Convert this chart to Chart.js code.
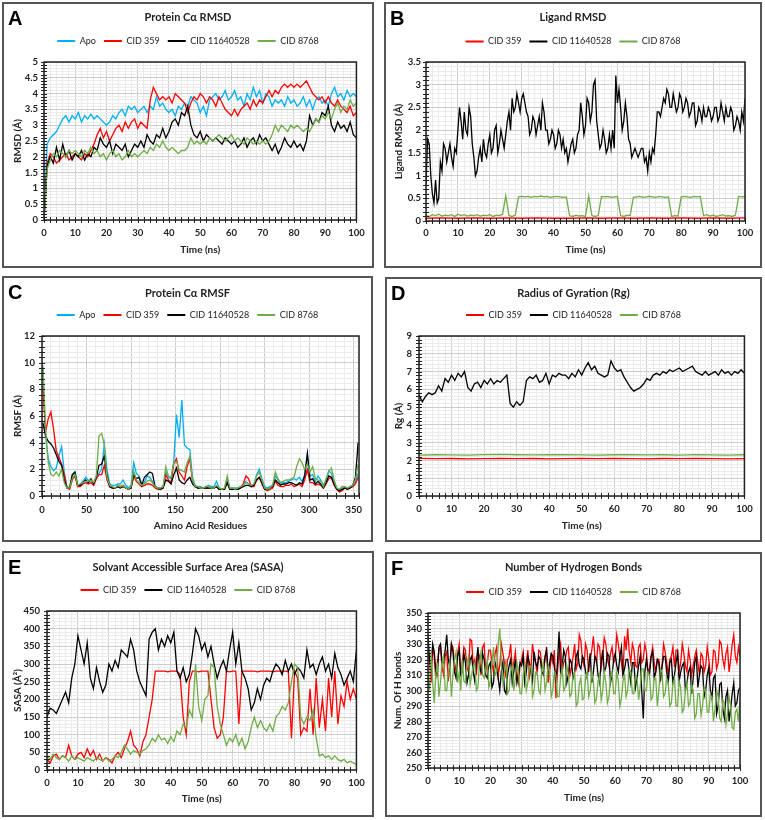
<!DOCTYPE html>
<html>
<head>
<meta charset="utf-8">
<script src="https://cdn.jsdelivr.net/npm/chart.js@4.4.1/dist/chart.umd.min.js"></script>
<style>
  html, body { margin: 0; padding: 0; background: #fff; }
  body { width: 765px; height: 820px; position: relative; overflow: hidden; }
  .panel { position: absolute; box-sizing: border-box; border: 2px solid #555; background: #fff; }
  .panel canvas { position: absolute; left: 0; top: 0; }
  .tag { position: absolute; left: 4px; top: 4px; z-index: 2; color: #000;
         font: bold 20px "Liberation Sans", Arial, sans-serif; line-height: 1; }
</style>
</head>
<body>
<div class="panel" id="panelA"><canvas></canvas><div class="tag">A</div></div>
<div class="panel" id="panelB"><canvas></canvas><div class="tag">B</div></div>
<div class="panel" id="panelC"><canvas></canvas><div class="tag">C</div></div>
<div class="panel" id="panelD"><canvas></canvas><div class="tag">D</div></div>
<div class="panel" id="panelE"><canvas></canvas><div class="tag">E</div></div>
<div class="panel" id="panelF"><canvas></canvas><div class="tag">F</div></div>

<script>
// ---- data ----
const timeNs = [0,1,2,3,4,5,6,7,8,9,10,11,12,13,14,15,16,17,18,19,20,21,22,23,24,25,26,27,28,29,30,31,32,33,34,35,36,37,38,39,40,41,42,43,44,45,46,47,48,49,50,51,52,53,54,55,56,57,58,59,60,61,62,63,64,65,66,67,68,69,70,71,72,73,74,75,76,77,78,79,80,81,82,83,84,85,86,87,88,89,90,91,92,93,94,95,96,97,98,99,100];
const timeHalf = [0,0.5,1,1.5,2,2.5,3,3.5,4,4.5,5,5.5,6,6.5,7,7.5,8,8.5,9,9.5,10,10.5,11,11.5,12,12.5,13,13.5,14,14.5,15,15.5,16,16.5,17,17.5,18,18.5,19,19.5,20,20.5,21,21.5,22,22.5,23,23.5,24,24.5,25,25.5,26,26.5,27,27.5,28,28.5,29,29.5,30,30.5,31,31.5,32,32.5,33,33.5,34,34.5,35,35.5,36,36.5,37,37.5,38,38.5,39,39.5,40,40.5,41,41.5,42,42.5,43,43.5,44,44.5,45,45.5,46,46.5,47,47.5,48,48.5,49,49.5,50,50.5,51,51.5,52,52.5,53,53.5,54,54.5,55,55.5,56,56.5,57,57.5,58,58.5,59,59.5,60,60.5,61,61.5,62,62.5,63,63.5,64,64.5,65,65.5,66,66.5,67,67.5,68,68.5,69,69.5,70,70.5,71,71.5,72,72.5,73,73.5,74,74.5,75,75.5,76,76.5,77,77.5,78,78.5,79,79.5,80,80.5,81,81.5,82,82.5,83,83.5,84,84.5,85,85.5,86,86.5,87,87.5,88,88.5,89,89.5,90,90.5,91,91.5,92,92.5,93,93.5,94,94.5,95,95.5,96,96.5,97,97.5,98,98.5,99,99.5,100];
const timeCoarse = [0,5,10,15,20,25,30,35,40,45,50,55,60,65,70,75,80,85,90,95,100];
const residues = [1,4,7,10,13,16,19,22,25,28,31,34,37,40,43,46,49,52,55,58,61,64,67,70,73,76,79,82,85,88,91,94,97,100,103,106,109,112,115,118,121,124,127,130,133,136,139,142,145,148,151,154,157,160,163,166,169,172,175,178,181,184,187,190,193,196,199,202,205,208,211,214,217,220,223,226,229,232,235,238,241,244,247,250,253,256,259,262,265,268,271,274,277,280,283,286,289,292,295,298,301,304,307,310,313,316,319,322,325,328,331,334,337,340,343,346,349,352,355];

// A: protein C-alpha RMSD
const rmsdApo = [0,2.4,2.6,2.7,2.8,3.0,3.2,3.3,3.1,3.3, 3.2,3.4,3.1,3.3,3.2,3.35,3.2,3.3,3.2,3.1, 3.0,3.1,3.3,3.2,3.4,3.5,3.3,3.6,3.5,3.6, 3.4,3.5,3.6,3.4,3.6,3.5,3.9,3.6,3.7,3.5, 3.4,3.5,3.3,3.6,3.5,3.7,3.6,3.9,3.8,3.7, 3.4,3.6,3.3,3.8,3.9,4.0,3.8,3.9,4.1,3.8, 3.9,4.1,3.8,3.9,3.6,4.0,3.8,4.2,3.9,4.1, 3.7,4.0,3.9,3.6,3.8,3.7,3.8,3.6,3.9,3.7, 3.8,3.6,3.7,3.9,3.6,3.8,3.5,3.8,3.9,3.7, 3.8,3.6,4.0,4.2,3.9,4.0,3.8,4.1,3.9,4.0, 3.9];
const rmsdCid359 = [0,1.8,2.1,2.0,1.8,1.9,2.0,2.1,1.9,2.0, 2.1,2.0,1.9,2.1,2.0,2.2,2.4,2.7,2.9,2.6, 2.8,2.5,2.7,2.9,3.0,2.8,3.1,2.9,3.1,3.2, 2.9,3.1,3.0,2.9,3.8,4.2,4.0,3.8,3.9,3.8, 3.9,3.7,4.0,3.9,3.8,3.7,3.4,3.7,3.9,3.8, 4.0,3.9,3.7,3.9,3.8,3.6,3.9,3.7,3.5,3.4, 3.3,3.5,3.3,3.5,3.6,3.7,3.5,3.8,3.6,3.8, 3.7,3.9,4.1,3.9,4.1,4.0,4.2,4.3,4.2,4.3, 4.2,4.3,4.2,4.3,4.4,4.2,4.0,3.9,3.8,3.9, 3.7,3.9,3.7,3.6,3.8,3.6,3.5,3.4,3.6,3.3, 3.4];
const rmsdCid11640528 = [0,1.7,2.0,1.8,2.3,1.9,2.4,2.0,2.2,1.9, 2.1,2.0,2.2,1.9,2.1,2.0,2.3,2.2,2.6,2.4, 2.3,2.5,2.1,2.4,2.3,2.2,2.4,2.0,2.2,2.4, 2.3,2.5,2.3,2.7,2.5,2.4,2.7,2.6,2.9,2.6, 2.8,3.1,3.2,3.0,3.4,3.3,3.6,3.0,2.7,2.6, 2.8,2.5,2.7,2.6,2.5,2.6,2.5,2.4,2.6,2.5, 2.4,2.5,2.3,2.4,2.6,2.3,2.5,2.6,2.4,2.7, 2.5,2.6,2.4,2.2,2.4,2.1,2.3,2.6,2.4,2.3, 2.5,2.3,2.4,2.2,2.5,3.3,3.0,3.2,3.1,3.4, 3.3,3.6,3.0,2.8,3.1,2.9,3.0,2.8,3.1,2.7, 2.6];
const rmsdCid8768 = [0,1.6,1.9,2.1,2.0,2.2,2.1,2.0,2.2,2.1, 2.2,2.1,2.0,2.2,2.1,2.3,2.1,2.2,2.0,2.1, 1.9,2.1,2.2,2.0,2.1,1.9,2.0,2.2,2.0,2.1, 2.0,2.1,2.2,2.1,2.3,2.2,2.4,2.3,2.5,2.3, 2.2,2.3,2.2,2.1,2.2,2.2,2.3,2.6,2.4,2.5, 2.4,2.5,2.4,2.6,2.5,2.6,2.7,2.6,2.5,2.6, 2.7,2.5,2.6,2.5,2.4,2.6,2.5,2.4,2.5,2.4, 2.5,2.4,2.5,2.7,3.0,2.8,3.0,2.9,2.8,3.0, 2.9,3.0,2.9,2.8,2.9,2.8,3.0,3.2,3.1,3.3, 3.2,3.4,3.2,3.5,3.7,3.4,3.6,3.5,3.8,3.6, 3.7];

// B: ligand RMSD
const ligCid359 = [0.06,0.07,0.06,0.07,0.06,0.07,0.06,0.07,0.06,0.06,0.07,0.06,0.07,0.06,0.07,0.06,0.07,0.06,0.07,0.06,0.07];
const ligCid11640528 = [0.8,1.8,1.7,1.0,0.6,0.4,0.9,0.4,0.5,1.3,1.1,1.7,1.6,1.3,1.5,1.7,1.4,1.2,1.6,1.5,
  2.0,2.5,2.2,1.8,2.4,2.0,1.9,2.5,2.3,1.7,1.4,1.0,1.1,1.4,1.6,1.3,1.8,1.5,1.4,1.7,
  1.9,1.5,1.6,2.0,2.1,1.5,1.7,2.0,1.8,1.6,1.9,2.2,2.4,2.0,2.7,2.4,2.5,2.8,2.6,2.4,
  2.7,2.8,2.6,2.4,2.3,1.9,2.0,2.3,2.2,1.9,2.1,2.3,2.0,2.6,2.4,2.0,2.0,1.7,1.8,2.0,
  1.9,1.6,1.7,2.0,1.9,1.6,1.8,1.5,1.6,1.3,1.5,1.7,1.8,1.5,1.6,1.9,2.0,2.6,2.3,1.9,
  2.1,2.7,2.6,2.2,2.4,3.0,3.1,2.2,1.9,1.6,1.7,2.0,1.8,1.5,1.6,1.9,1.6,2.0,1.6,3.2,
  2.6,2.9,2.5,2.0,2.2,2.6,2.3,1.8,1.7,1.4,1.5,1.6,1.5,1.4,1.5,1.6,1.6,1.3,1.4,1.1,
  1.5,1.3,1.6,1.5,1.9,2.4,2.4,2.3,2.5,2.7,2.6,2.9,2.8,2.5,2.5,2.8,2.6,2.4,2.5,2.8,
  2.7,2.4,2.5,2.7,2.6,2.3,2.4,2.6,2.6,2.1,2.2,2.5,2.4,2.2,2.5,2.3,2.3,2.5,2.4,2.2,
  2.3,2.5,2.5,2.2,2.3,2.6,2.4,2.2,2.5,2.3,2.3,2.5,2.4,2.0,2.1,2.3,2.2,2.0,2.4,2.2,
  2.7];
const ligCid8768 = [0.12,0.10,0.14,0.12,0.15,0.11,0.13,0.12,0.14,0.10, 0.15,0.12,0.14,0.11,0.13,0.12,0.14,0.11,0.13,0.12, 0.14,0.10,0.13,0.12,0.15, 0.55, 0.12,0.10,0.13, 0.53, 0.54,0.53,0.54,0.52,0.54,0.53,0.55,0.53,0.54,0.52,0.53,0.54,0.53,0.52, 0.53, 0.12,0.10,0.13,0.11,0.12,0.10, 0.55, 0.12,0.10,0.12, 0.54, 0.53,0.54,0.52,0.53,0.54, 0.12,0.10,0.13,0.12, 0.52, 0.53,0.54,0.52,0.53,0.54,0.53,0.52,0.54,0.53,0.52,0.53, 0.10,0.12,0.11, 0.53, 0.54,0.53,0.52,0.54,0.53,0.54, 0.12, 0.14,0.11,0.13,0.10,0.12,0.14,0.11,0.12,0.10,0.13, 0.54,0.53,0.54];

// C: protein C-alpha RMSF per residue
const rmsfApo = [9.6,4.5,2.8,2.2,1.9,2.1,3.0,3.7,1.8,0.7, 0.6,1.5,1.8,0.8,0.9,1.1,1.4,1.2,1.0,1.0, 1.5,1.7,2.0,3.9,2.0,0.9,0.8,0.8,0.9,0.9, 1.2,0.8,0.6,0.8,2.5,1.7,1.5,0.9,1.0,1.5, 1.4,1.1,0.7,0.6,0.6,0.7,1.8,1.4,1.3,2.6, 6.1,4.4,7.2,3.8,3.6,3.5,1.4,0.8,0.7,0.7, 0.6,0.7,0.8,0.7,0.7,1.1,0.6,0.5,0.6,1.3, 0.6,0.6,0.6,0.6,0.7,0.9,1.1,0.9,0.8,0.9, 1.6,2.0,1.3,0.7,0.6,0.7,0.8,1.5,1.2,0.9, 1.0,1.0,1.1,1.2,1.3,1.2,1.4,1.1,1.6,3.1, 1.5,1.6,1.1,1.5,1.2,0.8,1.2,1.9,1.7,1.1, 0.6,0.5,0.6,0.7,0.6,0.7,0.8,1.0,1.7];
const rmsfCid359 = [8.2,4.8,5.8,6.3,5.0,3.4,2.9,2.4,1.6,0.6, 0.5,1.2,1.5,0.7,0.7,0.9,1.0,0.9,1.0,0.8, 1.3,1.6,1.6,2.3,1.2,0.7,0.6,0.6,0.7,0.7, 0.8,0.6,0.5,0.6,1.5,1.1,0.9,0.7,0.8,0.9, 0.9,0.8,0.6,0.5,0.5,0.6,1.6,1.2,1.0,2.4, 2.8,1.8,1.5,1.2,2.2,2.8,1.1,0.7,0.6,0.6, 0.6,0.6,0.6,0.6,0.6,0.7,0.5,0.5,0.5,1.0, 0.5,0.5,0.5,0.5,0.6,0.9,1.5,1.3,0.7,0.7, 1.2,1.4,0.9,0.5,0.4,0.5,0.6,1.1,0.8,0.7, 0.7,0.8,0.8,0.9,0.7,0.8,0.9,0.7,1.2,2.0, 1.0,1.0,0.8,0.9,0.8,0.6,0.9,1.3,1.4,0.8, 0.5,0.3,0.4,0.6,0.5,0.6,0.7,0.9,1.4];
const rmsfCid11640528 = [5.5,4.5,4.1,3.9,3.6,3.1,2.6,2.3,1.2,0.6, 0.6,1.6,1.8,0.8,0.8,1.0,1.2,1.0,1.3,0.9, 1.4,2.3,2.4,3.0,1.5,0.7,0.6,0.6,0.7,0.6, 0.7,0.6,0.5,0.6,1.6,1.3,1.4,0.8,1.4,1.6, 1.8,1.7,0.7,0.6,0.5,0.6,1.2,1.1,0.9,1.6, 2.1,1.2,1.0,0.9,1.2,1.4,0.9,0.7,0.6,0.6, 0.6,0.6,0.6,0.6,0.6,0.7,0.5,0.5,0.5,1.0, 0.5,0.5,0.5,0.5,0.6,0.7,0.8,0.8,0.7,0.8, 1.2,1.4,1.0,0.5,0.5,0.6,0.7,1.2,1.0,0.8, 0.9,0.9,1.0,1.0,0.9,0.8,1.0,0.9,1.5,3.2, 1.2,1.3,0.9,1.1,0.9,0.6,1.0,1.5,1.4,0.9, 0.5,0.4,0.5,0.6,0.5,0.6,0.8,1.4,4.0];
const rmsfCid8768 = [9.8,5.0,2.5,1.6,1.5,1.8,1.5,2.0,1.0,0.6, 0.6,1.3,1.6,0.8,0.9,1.0,1.1,1.1,1.2,1.0, 1.5,4.5,4.7,3.8,1.4,0.8,0.7,0.6,0.8,0.7, 0.8,0.6,0.5,0.7,1.9,1.2,1.0,0.8,0.9,1.1, 1.2,1.0,0.7,0.6,0.6,0.7,2.2,1.5,1.4,2.5, 2.6,2.0,1.9,1.8,2.5,3.0,1.2,0.7,0.7,0.6, 0.6,0.7,0.7,0.6,0.6,0.8,0.6,0.5,0.6,1.5, 0.6,0.6,0.5,0.6,0.7,0.8,1.0,0.9,0.8,0.9, 1.5,1.8,1.2,0.6,0.5,0.6,0.8,1.8,1.3,1.0, 1.1,1.2,1.2,1.3,1.4,2.2,2.8,2.5,2.0,2.4, 1.8,2.2,1.3,1.2,1.1,0.7,1.3,1.8,2.1,1.2, 0.6,0.5,0.7,0.7,0.6,0.7,0.8,1.2,2.4];

// D: radius of gyration
const rgCid359 = [2.12,2.10,2.11,2.09,2.10,2.12,2.10,2.11,2.09,2.10,2.11,2.10,2.12,2.10,2.09,2.11,2.10,2.12,2.10,2.09,2.10];
const rgCid11640528 = [5.7,5.3,5.6,5.8,5.7,5.8,6.2,5.9,6.6,6.4, 6.8,6.5,6.9,6.7,7.0,6.1,5.9,6.3,6.4,6.1, 6.5,6.3,6.6,6.3,6.5,6.4,6.6,6.8,5.2,5.0, 5.3,5.1,5.3,6.5,6.7,6.6,6.8,6.4,6.5,6.9, 6.3,6.8,6.7,6.9,6.8,6.8,6.6,6.9,6.7,7.1, 6.8,7.2,7.5,7.1,7.3,6.9,6.8,6.7,6.8,7.6, 7.2,7.0,7.1,6.7,6.4,6.1,5.9,6.0,6.1,6.3, 6.6,6.5,6.8,6.9,6.8,7.0,6.9,7.1,7.0,7.1, 7.2,7.0,7.1,7.2,7.3,7.0,6.9,6.8,7.0,6.8, 6.9,7.0,6.8,7.1,6.9,7.0,6.8,7.0,6.9,7.1, 6.9];
const rgCid8768 = [2.30,2.32,2.31,2.30,2.33,2.34,2.32,2.31,2.33,2.32,2.31,2.30,2.32,2.33,2.31,2.32,2.30,2.33,2.31,2.30,2.32];

// E: SASA
const sasaCid359 = [30,20,40,45,30,40,35,70,40,30, 45,50,35,60,40,55,30,45,25,35, 30,20,40,50,35,60,80,110,70,60, 40,80,100,150,200,280,280,280,280,278, 280,280,280,270,150,100,250,280,280,278, 280,280,280,200,120,90,100,150,280,278, 280,280,130,280,280,280,280,280,278,280, 280,280,280,278,280,280,280,280,278,90, 280,260,100,120,110,230,100,260,120,200, 110,260,150,280,130,210,180,250,200,230, 200];
const sasaCid11640528 = [150,175,170,160,180,200,220,190,260,300, 380,340,300,360,260,230,290,250,220,240, 300,280,310,290,340,330,320,370,340,280, 250,230,210,370,390,400,340,370,350,380, 360,390,280,260,290,250,270,330,400,380, 340,360,320,350,300,260,290,310,280,340, 390,300,360,280,260,230,170,190,230,200, 240,260,250,280,300,290,270,310,280,300, 270,290,280,260,340,290,300,270,300,320, 280,300,260,330,290,270,240,260,280,250, 340];
const sasaCid8768 = [40,30,45,35,30,40,35,25,40,30, 35,30,25,35,30,25,35,30,25,35, 25,30,40,35,50,70,60,45,55,50, 45,55,60,70,90,80,100,85,90,75, 95,80,110,100,130,120,170,150,300,180, 140,200,210,300,290,180,130,100,70,90, 80,100,70,90,60,80,120,150,120,140, 120,110,130,110,150,160,180,170,190,250, 300,290,150,130,150,140,170,90,40,45, 35,40,30,40,30,25,30,20,25,20, 15];

// F: number of hydrogen bonds (every 0.5 ns)
const hbCid359 = [325,318,305,328,322,308,318,326,328,315,310,322,325,306,315,330,328,318,312,324,
  330,310,318,328,326,315,312,333,332,316,320,310,325,322,310,328,330,312,318,326,
  326,318,312,324,328,310,316,330,324,318,308,320,322,330,314,318,325,312,305,316,
  320,325,312,318,326,309,315,330,322,318,310,326,325,316,314,320,328,305,312,322,
  318,326,295,312,324,330,312,318,320,326,328,310,315,322,330,314,318,336,332,320,
  316,330,326,312,320,326,335,322,318,330,328,315,322,334,330,320,316,324,328,318,
  320,336,330,322,318,310,335,326,340,325,318,330,326,316,315,328,330,318,320,330,
  325,312,314,322,328,318,312,320,320,308,316,330,325,318,310,320,322,328,315,326,
  326,312,318,330,324,316,312,326,320,310,316,322,326,318,310,324,322,312,316,328,
  320,310,312,326,325,314,318,332,330,320,315,324,328,312,320,330,336,322,318,328,
  322];
const hbCid11640528 = [335,320,315,330,325,312,310,328,330,318,318,326,336,320,315,330,325,312,308,322,
  326,310,312,324,318,305,310,320,322,312,306,318,328,315,312,324,320,310,308,316,
  318,302,305,318,314,308,300,312,318,300,298,310,316,320,305,312,320,305,310,318,
  316,322,305,312,322,318,312,306,325,318,315,322,320,312,310,322,326,312,318,324,
  322,315,305,318,338,312,315,326,322,305,310,320,318,308,312,322,325,316,314,322,
  320,312,308,316,324,305,312,322,320,310,305,318,326,312,315,324,322,305,310,320,
  324,316,312,322,328,310,314,320,320,312,305,318,318,302,308,316,322,300,282,312,
  320,312,310,322,325,308,312,320,318,306,315,322,322,312,305,318,320,305,310,318,
  324,306,312,316,318,300,305,312,315,298,308,318,322,302,310,316,314,296,300,310,
  315,300,295,308,310,285,290,304,305,288,282,296,300,280,288,298,305,290,292,300,
  302];
const hbCid8768 = [310,300,325,305,292,310,318,296,305,318,322,300,300,312,318,296,310,320,325,305,
  312,300,320,306,305,318,322,304,310,316,318,300,302,318,325,310,308,315,320,302,
  306,318,328,310,312,330,340,318,305,312,320,298,300,312,316,300,308,318,312,298,
  298,310,318,300,305,316,315,296,300,312,312,300,298,314,318,300,305,316,312,296,
  300,312,310,296,296,308,315,300,302,316,310,296,298,310,312,290,292,304,308,294,
  295,308,312,296,300,312,306,292,295,306,310,294,300,312,305,292,296,308,312,298,
  298,312,306,290,295,306,310,296,300,314,312,298,298,310,308,294,302,314,314,300,
  300,312,310,294,296,308,308,290,300,314,312,296,298,308,305,290,292,304,308,290,
  290,306,302,286,288,300,305,290,292,304,300,282,285,298,298,284,290,302,300,286,
  286,298,295,280,288,300,296,282,280,294,292,278,285,296,290,276,275,286,288,280,
  295];

// ---- styling ----
const COLORS = { apo: '#00b0f0', cid359: '#ff0000', cid11640528: '#000000', cid8768: '#70ad47' };
const BORDER = 2;          // panel frame width
const X_AXIS_H = 42;       // height reserved under every plot
const LEGEND_PAD = 8;
const TICK_FONT = { family: 'Lato', size: 9.5, weight: 'bold', lineHeight: 1.2 };
const AXIS_FONT = { family: 'Lato', size: 10, weight: 'bold', lineHeight: 1.2 };
const TITLE_FONT = { family: 'Lato', size: 11, weight: 'bold', lineHeight: 1.2 };
const LEGEND_FONT = { family: 'Lato', size: 9, weight: 'normal' };
const TEXT = '#222';

const pts = (xs, ys) => ys.map((y, i) => ({ x: xs[i], y }));
const onStep = (v, step) => { const r = v / step; return Math.abs(r - Math.round(r)) < 1e-6; };
const sid = (xs, ys, key, label) => ({ xs, ys, color: COLORS[key], label });

// page-coordinate layout of each panel
const panels = [
    { id: 'A', box: [2, 2, 374, 268], plot: [44, 62, 357, 220], titleY: 17, legendY: 41, xLabelY: 233, xTitleY: 250, yTitleX: 18, yGap: 6,
      title: 'Protein Cα RMSD', xTitle: 'Time (ns)', yTitle: 'RMSD (Å)',
      x: { min: 0, max: 100, major: 10, minor: 2 }, y: { min: 0, max: 5, major: 0.5, minor: 0.1 },
      series: [sid(timeNs, rmsdApo, 'apo', 'Apo'), sid(timeNs, rmsdCid359, 'cid359', 'CID 359'),
               sid(timeNs, rmsdCid11640528, 'cid11640528', 'CID 11640528'), sid(timeNs, rmsdCid8768, 'cid8768', 'CID 8768')] },
    { id: 'B', box: [384, 2, 762, 268], plot: [426, 62, 745, 221], titleY: 17.5, legendY: 41.5, xLabelY: 233, xTitleY: 250, yTitleX: 399, yGap: 5,
      title: 'Ligand RMSD', xTitle: 'Time (ns)', yTitle: 'Ligand RMSD (Å)',
      x: { min: 0, max: 100, major: 10, minor: 2 }, y: { min: 0, max: 3.5, major: 0.5, minor: 0.1 },
      series: [sid(timeCoarse, ligCid359, 'cid359', 'CID 359'), sid(timeHalf, ligCid11640528, 'cid11640528', 'CID 11640528'),
               sid(timeNs, ligCid8768, 'cid8768', 'CID 8768')] },
    { id: 'C', box: [2, 276, 373, 542], plot: [42, 336, 359, 496], titleY: 293, legendY: 315, xLabelY: 510, xTitleY: 526, yTitleX: 18, yGap: 7,
      title: 'Protein Cα RMSF', xTitle: 'Amino Acid Residues', yTitle: 'RMSF (Å)',
      x: { min: 0, max: 356, major: 50, minor: 10 }, y: { min: 0, max: 12, major: 2, minor: 0.4 },
      series: [sid(residues, rmsfApo, 'apo', 'Apo'), sid(residues, rmsfCid359, 'cid359', 'CID 359'),
               sid(residues, rmsfCid11640528, 'cid11640528', 'CID 11640528'), sid(residues, rmsfCid8768, 'cid8768', 'CID 8768')] },
    { id: 'D', box: [385, 277, 762, 542], plot: [419, 336, 745, 496], titleY: 293, legendY: 315, xLabelY: 509, xTitleY: 526, yTitleX: 399, yGap: 7,
      title: 'Radius of Gyration (Rg)', xTitle: 'Time (ns)', yTitle: 'Rg (Å)',
      x: { min: 0, max: 100, major: 10, minor: 2 }, y: { min: 0, max: 9, major: 1, minor: 0.2 },
      series: [sid(timeCoarse, rgCid359, 'cid359', 'CID 359'), sid(timeNs, rgCid11640528, 'cid11640528', 'CID 11640528'),
               sid(timeCoarse, rgCid8768, 'cid8768', 'CID 8768')] },
    { id: 'E', box: [2, 551, 374, 817], plot: [47, 611, 358, 770], titleY: 567, legendY: 590, xLabelY: 783, xTitleY: 799, yTitleX: 18, yGap: 7,
      title: 'Solvant Accessible Surface Area (SASA)', xTitle: 'Time (ns)', yTitle: 'SASA (Å²)',
      x: { min: 0, max: 100, major: 10, minor: 2 }, y: { min: 0, max: 450, major: 50, minor: 10 },
      series: [sid(timeNs, sasaCid359, 'cid359', 'CID 359'), sid(timeNs, sasaCid11640528, 'cid11640528', 'CID 11640528'),
               sid(timeNs, sasaCid8768, 'cid8768', 'CID 8768')] },
    { id: 'F', box: [385, 552, 762, 817], plot: [428, 613, 740, 768], titleY: 567, legendY: 592, xLabelY: 781, xTitleY: 798, yTitleX: 398, yGap: 6,
      title: 'Number of Hydrogen Bonds', xTitle: 'Time (ns)', yTitle: 'Num. Of H bonds',
      x: { min: 0, max: 100, major: 10, minor: 2 }, y: { min: 250, max: 350, major: 10, minor: 2 },
      series: [sid(timeHalf, hbCid359, 'cid359', 'CID 359'), sid(timeHalf, hbCid11640528, 'cid11640528', 'CID 11640528'),
               sid(timeHalf, hbCid8768, 'cid8768', 'CID 8768')] }
];

// Excel-style frame round the plot area plus tick marks crossing the axes
const axisFrame = {
    id: 'axisFrame',
    afterDatasetsDraw(chart) {
        const { ctx, chartArea: a, scales } = chart;
        ctx.save();
        ctx.strokeStyle = '#222';
        ctx.lineWidth = 1;
        ctx.beginPath();
        scales.x.ticks.forEach(t => {
            const px = Math.round(scales.x.getPixelForValue(t.value)) + 0.5;
            ctx.moveTo(px, a.bottom - 3); ctx.lineTo(px, a.bottom + 3);
        });
        scales.y.ticks.forEach(t => {
            const py = Math.round(scales.y.getPixelForValue(t.value)) + 0.5;
            ctx.moveTo(a.left - 3, py); ctx.lineTo(a.left + 3, py);
        });
        ctx.stroke();
        ctx.lineWidth = 1.5;
        ctx.strokeRect(a.left, a.top, a.right - a.left, a.bottom - a.top);
        ctx.restore();
    }
};

const gridColor = (major) => (c) => (c.tick && onStep(c.tick.value, major)) ? '#cdcdcd' : '#ebebeb';

// minor-step ticks from min to max (Chart.js would otherwise merge 350 into 356)
const stepTicks = (ax) => (scale) => {
    const out = [];
    for (let k = 0; ; k++) {
        const v = +(ax.min + k * ax.minor).toFixed(6);
        if (v > ax.max + 1e-9) break;
        out.push({ value: v });
    }
    if (out[out.length - 1].value < ax.max) out.push({ value: ax.max });
    scale.ticks = out;
};

function buildPanel(p) {
    const el = document.getElementById('panel' + p.id);
    const [bl, bt, br, bb] = p.box;
    Object.assign(el.style, { left: bl + 'px', top: bt + 'px', width: (br - bl) + 'px', height: (bb - bt) + 'px' });

    // canvas origin and size in page coordinates
    const cx = bl + BORDER, cy = bt + BORDER;
    const cw = br - bl - 2 * BORDER, ch = bb - bt - 2 * BORDER;
    const canvas = el.querySelector('canvas');
    canvas.width = cw; canvas.height = ch;

    const [pl, pt, pr, pb] = p.plot;
    const side = cx + cw - pr;                 // same padding both sides keeps title/legend centred
    const yAxisW = pl - cx - side;
    const padBottom = cy + ch - pb - X_AXIS_H;

    const tLH = TITLE_FONT.size * TITLE_FONT.lineHeight;
    const titleTop = p.titleY - cy - tLH / 2;
    const titleEnd = p.legendY - cy - LEGEND_PAD - LEGEND_FONT.size / 2;
    const titleBottom = titleEnd - titleTop - tLH;
    const legendEnd = p.legendY - cy + LEGEND_FONT.size / 2 + 10;
    const gap = pt - cy - legendEnd;           // space between legend and plot

    const tickLH = TICK_FONT.size * TICK_FONT.lineHeight;
    const axLH = AXIS_FONT.size * AXIS_FONT.lineHeight;

    const n = p.series.length;
    new Chart(canvas, {
        type: 'line',
        data: {
            datasets: p.series.map((s, i) => ({
                label: s.label,
                data: pts(s.xs, s.ys),
                borderColor: s.color,
                backgroundColor: s.color,
                borderWidth: 1.3,
                pointRadius: 0,
                tension: 0,
                order: n - i     // later series drawn on top, like Excel
            }))
        },
        options: {
            responsive: false,
            animation: false,
            layout: { padding: { left: side, right: side, top: 0, bottom: padBottom } },
            plugins: {
                title: { display: true, text: p.title, color: TEXT, font: TITLE_FONT,
                         padding: { top: titleTop, bottom: titleBottom } },
                subtitle: { display: gap >= 1, text: '', weight: 500, font: { size: 1, lineHeight: 1 },
                            padding: { top: Math.max(0, gap - 1), bottom: 0 } },
                legend: {
                    display: true,
                    position: 'top',
                    labels: {
                        usePointStyle: true, pointStyle: 'line', pointStyleWidth: 18,
                        padding: LEGEND_PAD, color: TEXT, font: LEGEND_FONT,
                        sort: (a, b) => a.datasetIndex - b.datasetIndex,
                        generateLabels: chart => Chart.defaults.plugins.legend.labels.generateLabels(chart)
                            .map(l => Object.assign(l, { lineWidth: 2 }))
                    }
                },
                tooltip: { enabled: false }
            },
            scales: {
                x: {
                    type: 'linear', min: p.x.min, max: p.x.max,
                    afterFit: s => { s.height = X_AXIS_H; },
                    afterBuildTicks: stepTicks(p.x),
                    ticks: { autoSkip: false, maxRotation: 0, color: TEXT, font: TICK_FONT,
                             padding: p.xLabelY - pb - tickLH / 2,
                             callback: v => onStep(v, p.x.major) ? String(v) : '' },
                    grid: { drawTicks: false, lineWidth: 1, color: gridColor(p.x.major) },
                    border: { display: false },
                    title: { display: true, text: p.xTitle, color: TEXT, font: AXIS_FONT,
                             padding: { top: 0, bottom: pb + X_AXIS_H - p.xTitleY - axLH / 2 } }
                },
                y: {
                    type: 'linear', min: p.y.min, max: p.y.max,
                    afterFit: s => { s.width = yAxisW; },
                    afterBuildTicks: stepTicks(p.y),
                    ticks: { autoSkip: false, color: TEXT, font: TICK_FONT, padding: p.yGap,
                             callback: v => onStep(v, p.y.major) ? String(v) : '' },
                    grid: { drawTicks: false, lineWidth: 1, color: gridColor(p.y.major) },
                    border: { display: false },
                    title: { display: true, text: p.yTitle, color: TEXT, font: AXIS_FONT,
                             padding: { top: p.yTitleX - cx - side - axLH / 2, bottom: 0 } }
                }
            }
        },
        plugins: [axisFrame]
    });
}

panels.forEach(buildPanel);
</script>
</body>
</html>
